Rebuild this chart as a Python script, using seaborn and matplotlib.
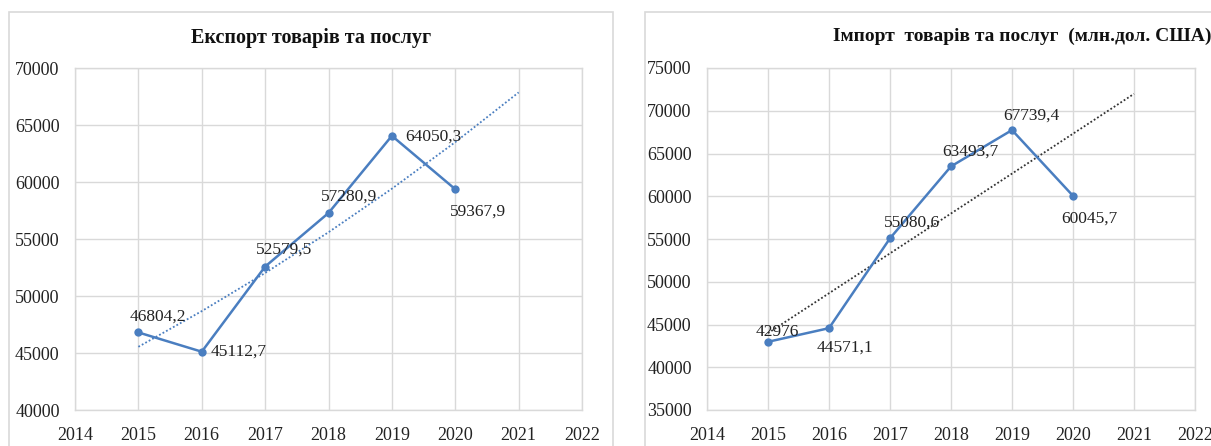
import numpy as np
import pandas as pd
import matplotlib
matplotlib.use("Agg")
import matplotlib.pyplot as plt
from matplotlib.patches import Rectangle
import seaborn as sns

# ---- data ----
years = [2015, 2016, 2017, 2018, 2019, 2020]
export_vals = [46804.2, 45112.7, 52579.5, 57280.9, 64050.3, 59367.9]
import_vals = [42976.0, 44571.1, 55080.6, 63493.7, 67739.4, 60045.7]
export_labels = ["46804,2", "45112,7", "52579,5", "57280,9", "64050,3", "59367,9"]
import_labels = ["42976", "44571,1", "55080,6", "63493,7", "67739,4", "60045,7"]
trend_years = [2015, 2016, 2017, 2018, 2019, 2020, 2021]
x_ticks = [2014, 2015, 2016, 2017, 2018, 2019, 2020, 2021, 2022]
export_title = "Експорт товарів та послуг"
import_title = "Імпорт  товарів та послуг  (млн.дол. США)"

sns.set_theme(style="white")
plt.rcParams["font.family"] = ["Liberation Serif", "DejaVu Serif"]

LINE = "#4A7EC0"
GRID = "#D9D9D9"

fig = plt.figure(figsize=(12.11, 4.46), dpi=100)

# chart-area frames
fig.patches.append(Rectangle((9 / 1211, -0.05), (613 - 9) / 1211, 1 - 12 / 446 + 0.05,
                             transform=fig.transFigure, fill=False, edgecolor=GRID, lw=1.2))
fig.patches.append(Rectangle((645 / 1211, -0.05), 0.5, 1 - 12 / 446 + 0.05,
                             transform=fig.transFigure, fill=False, edgecolor=GRID, lw=1.2))

ax1 = fig.add_axes([75 / 1211, 36 / 446, 507 / 1211, 342 / 446])
ax2 = fig.add_axes([707 / 1211, 36 / 446, 488 / 1211, 342 / 446])

yr = np.array(years, dtype=float)
ty = np.array(trend_years, dtype=float)
# exponential trend for exports, linear for imports (fitted from data)
b, a = np.polyfit(yr - 2015, np.log(export_vals), 1)
export_trend = np.exp(a + b * (ty - 2015))
m, c = np.polyfit(yr - 2015, import_vals, 1)
import_trend = c + m * (ty - 2015)

exp_off = [(20, 16), (9, 0), (19, 17), (21, 16), (13, -1), (23, -22)]
exp_ha = ["center", "left", "center", "center", "left", "center"]
imp_off = [(9, 10), (16, -19), (22, 16), (19, 15), (19, 14), (16, -23)]
imp_ha = ["center"] * 6

def draw(ax, vals, labels, trend, tcolor, ylim, offs, has):
    df = pd.DataFrame({"year": years, "value": vals})
    dt = pd.DataFrame({"year": trend_years, "value": trend})
    sns.lineplot(data=dt, x="year", y="value", ax=ax, color=tcolor,
                 linestyle=(0, (1, 1.2)), linewidth=1.3, zorder=2)
    sns.lineplot(data=df, x="year", y="value", ax=ax, color=LINE, linewidth=1.8,
                 marker="o", markersize=6, markeredgewidth=0, zorder=3)
    for xv, yv, lab, (dx, dy), ha in zip(years, vals, labels, offs, has):
        ax.annotate(lab, (xv, yv), xytext=(dx, dy), textcoords="offset pixels",
                    ha=ha, va="center", fontsize=12.5, color="#222222", zorder=4)
    ax.set_xlim(2014, 2022)
    ax.set_ylim(*ylim)
    ax.set_xticks(x_ticks)
    ax.set_xticklabels([str(t) for t in x_ticks])
    ax.set_yticks(np.arange(ylim[0], ylim[1] + 1, 5000))
    ax.set_yticklabels([str(int(v)) for v in np.arange(ylim[0], ylim[1] + 1, 5000)])
    ax.grid(True, color=GRID, linewidth=1)
    ax.set_axisbelow(True)
    for s in ax.spines.values():
        s.set_color(GRID)
        s.set_linewidth(1)
    ax.tick_params(axis="both", length=0, labelsize=13, colors="#222222")
    ax.tick_params(axis="y", pad=11)
    ax.tick_params(axis="x", pad=12)
    ax.set_xlabel("")
    ax.set_ylabel("")

draw(ax1, export_vals, export_labels, export_trend, LINE, (40000, 70000), exp_off, exp_ha)
draw(ax2, import_vals, import_labels, import_trend, "#333333", (35000, 75000), imp_off, imp_ha)

fig.text(311 / 1211, 1 - 38 / 446, export_title, ha="center", va="center",
         fontsize=14.5, fontweight="bold", color="#111111")
fig.text(833 / 1211, 1 - 36 / 446, import_title, ha="left", va="center",
         fontsize=14, fontweight="bold", color="#111111")

fig.savefig("out.png", dpi=100)
